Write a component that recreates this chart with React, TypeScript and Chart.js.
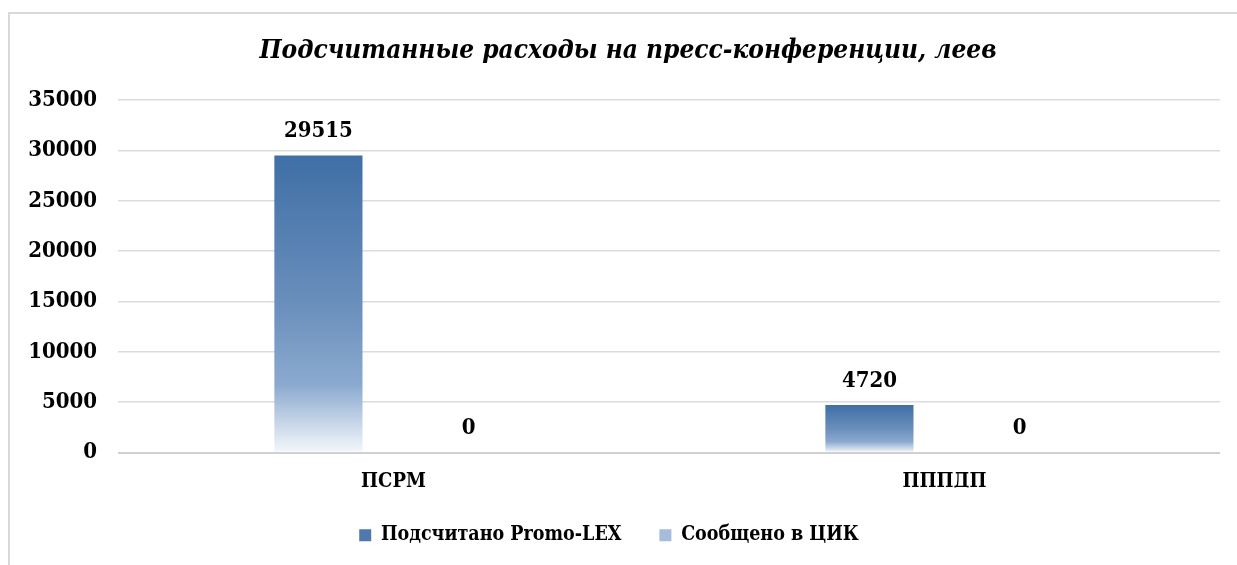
import React, { useEffect, useRef } from "react";
import { Chart, registerables } from "chart.js";

Chart.register(...registerables);

const categories: string[] = ["ПСРМ", "ПППДП"];
const promoLexValues: number[] = [29515, 4720];
const cecValues: number[] = [0, 0];
const seriesNames: string[] = ["Подсчитано Promo-LEX", "Сообщено в ЦИК"];
const titleText = "Подсчитанные расходы на пресс-конференции, леев";
const yTicks: number[] = [0, 5000, 10000, 15000, 20000, 25000, 30000, 35000];

const FONT = '"DejaVu Serif Condensed", "DejaVu Serif", serif';

function barGradient(ctx: any, stops: [number, string][]) {
  const chart = ctx.chart;
  const yScale = chart.scales?.y;
  if (!yScale || ctx.type !== "data") return stops[0][1];
  const v = ctx.parsed?.y ?? 0;
  const top = yScale.getPixelForValue(v);
  const bottom = yScale.getPixelForValue(0);
  if (!isFinite(top) || !isFinite(bottom) || Math.abs(bottom - top) < 1) return stops[0][1];
  const g = chart.ctx.createLinearGradient(0, top, 0, bottom);
  stops.forEach(([o, c]) => g.addColorStop(o, c));
  return g;
}

const dataLabelPlugin = {
  id: "dataLabels",
  afterLayout(chart: any) {
    // legend and title are not exactly centred in the original
    const lg = chart.legend;
    if (lg) {
      lg.left -= 6;
      lg.right -= 6;
    }
    const tb = chart.titleBlock;
    if (tb) {
      tb.left += 13;
      tb.right += 13;
    }
  },
  afterDatasetsDraw(chart: any) {
    const { ctx } = chart;
    ctx.save();
    ctx.font = `bold 22px ${FONT}`;
    ctx.fillStyle = "#000000";
    ctx.textAlign = "center";
    ctx.textBaseline = "middle";
    chart.data.datasets.forEach((ds: any, i: number) => {
      const meta = chart.getDatasetMeta(i);
      meta.data.forEach((bar: any, j: number) => {
        ctx.fillText(String(ds.data[j]), bar.x, bar.y - 24);
      });
    });
    ctx.restore();
  },
};

export default function App() {
  const ref = useRef<HTMLCanvasElement>(null);
  useEffect(() => {
    if (!ref.current) return;
    const chart = new Chart(ref.current, {
      type: "bar",
      data: {
        labels: categories,
        datasets: [
          {
            label: seriesNames[0],
            data: promoLexValues,
            backgroundColor: (c: any) =>
              barGradient(c, [
                [0, "#3f6fa6"],
                [0.5, "#6a8fbc"],
                [0.77, "#8aa9cf"],
                [1, "#f4f7fb"],
              ]),
            categoryPercentage: 0.545,
            barPercentage: 0.587,
          },
          {
            label: seriesNames[1],
            data: cecValues,
            backgroundColor: (c: any) =>
              barGradient(c, [
                [0, "#9ab3d7"],
                [1, "#f4f7fb"],
              ]),
            categoryPercentage: 0.545,
            barPercentage: 0.587,
          },
        ],
      },
      options: {
        animation: false,
        responsive: false,
        maintainAspectRatio: false,
        layout: { padding: { left: 0, right: 17, top: 0, bottom: 10 } },
        plugins: {
          title: {
            display: true,
            text: titleText,
            color: "#000000",
            font: { family: FONT, size: 26, weight: "bold", style: "italic", lineHeight: 1.2 },
            padding: { top: 22, bottom: 33 },
          },
          legend: {
            position: "bottom",
            labels: {
              color: "#000000",
              font: { family: FONT, size: 19.5, weight: "bold" },
              boxWidth: 12,
              boxHeight: 12,
              padding: 38,
              generateLabels: () =>
                seriesNames.map((n, i) => ({
                  text: n,
                  fillStyle: i === 0 ? "#4f79ad" : "#a6bcdc",
                  strokeStyle: "rgba(0,0,0,0)",
                  lineWidth: 0,
                  datasetIndex: i,
                  hidden: false,
                })),
            },
          },
          tooltip: { enabled: false },
        },
        scales: {
          x: {
            grid: { display: false, drawTicks: false },
            border: { display: false },
            afterFit: (s: any) => {
              s.height = 35;
            },
            ticks: {
              color: "#000000",
              font: { family: FONT, size: 20, weight: "bold" },
              padding: 17,
            },
          },
          y: {
            min: 0,
            max: 35000,
            afterBuildTicks: (s: any) => {
              s.ticks = yTicks.map((v) => ({ value: v }));
            },
            afterFit: (s: any) => {
              s.width = 108;
            },
            grid: {
              color: (c: any) => (c.tick && c.tick.value === 0 ? "#d0d0d0" : "#dcdcdc"),
              lineWidth: (c: any) => (c.tick && c.tick.value === 0 ? 2 : 1.5),
              drawTicks: false,
            },
            border: { display: false },
            ticks: {
              color: "#000000",
              font: { family: FONT, size: 22, weight: "bold" },
              padding: 21,
              callback: (v: any) => String(v),
            },
          },
        },
      },
      plugins: [dataLabelPlugin],
    });
    return () => chart.destroy();
  }, []);
  return (
    <div
      style={{
        position: "absolute",
        left: 8,
        top: 12,
        width: 1229,
        height: 553,
        borderLeft: "2px solid #d9d9d9",
        borderTop: "2px solid #d9d9d9",
        boxSizing: "border-box",
        background: "#ffffff",
      }}
    >
      <canvas ref={ref} width={1227} height={551} style={{ display: "block" }} />
    </div>
  );
}
